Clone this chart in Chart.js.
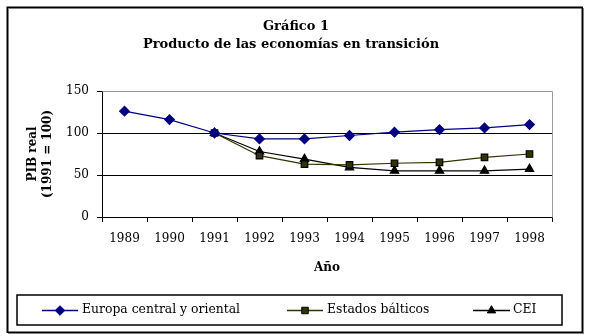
<!DOCTYPE html>
<html><head><meta charset="utf-8">
<script src="https://cdn.jsdelivr.net/npm/chart.js@4/dist/chart.umd.min.js"></script>
<style>html,body{margin:0;padding:0;background:#fff}#wrap{width:590px;height:336px;position:relative}</style>
</head><body><div id="wrap"><canvas id="c" width="590" height="336"></canvas></div>
<script>
const years = ['1989','1990','1991','1992','1993','1994','1995','1996','1997','1998'];
const europaCentral = [126,116,100,93,93,97,101,104,106,110];
const estadosBalticos = [null,null,100,73,63,62,64,65,71,75];
const cei = [null,null,100,78,69,59,55,55,55,57];
const yTicks = [0,50,100,150];
const titleLines = ['Gráfico 1','Producto de las economías en transición'];
const yTitle = ['PIB real','(1991 = 100)'];
const xTitle = 'Año';

const SERIF = '"DejaVu Serif", serif';

const framePlugin = {
  id:'frame',
  beforeDraw(chart){
    const {ctx} = chart;
    ctx.save();
    ctx.fillStyle='#fff'; ctx.fillRect(0,0,chart.width,chart.height);
    ctx.strokeStyle='#808080'; ctx.lineWidth=1;
    ctx.strokeRect(8.5,8.5,575,325);
    ctx.strokeStyle='#000'; ctx.lineWidth=1.5;
    ctx.strokeRect(7.25,7.25,575,325);
    ctx.fillStyle='#000'; ctx.textAlign='center'; ctx.textBaseline='middle';
    ctx.font='bold 13px '+SERIF;
    ctx.fillText(titleLines[0], 296, 27);
    ctx.fillText(titleLines[1], 291, 45);
    ctx.restore();
  },
  beforeDatasetsDraw(chart){
    const {ctx, chartArea:a} = chart;
    ctx.save();
    ctx.strokeStyle='#9a9a9a'; ctx.lineWidth=1;
    ctx.beginPath();
    ctx.moveTo(Math.round(a.left)+0.5, Math.round(a.top)+0.5);
    ctx.lineTo(Math.round(a.right)+0.5, Math.round(a.top)+0.5);
    ctx.lineTo(Math.round(a.right)+0.5, Math.round(a.bottom)+0.5);
    ctx.stroke();
    ctx.restore();
  },
  afterDraw(chart){
    const ctx = chart.ctx;
    ctx.save();
    ctx.strokeStyle='#000'; ctx.lineWidth=1.5;
    ctx.strokeRect(17,295,545,30);
    const items = [{x0:42,x1:78,tx:82},{x0:287,x1:323,tx:327},{x0:473,x1:510,tx:513}];
    const y = 310;
    chart.data.datasets.forEach((ds,i)=>{
      const it = items[i];
      ctx.strokeStyle = ds.borderColor; ctx.lineWidth = 1.5;
      ctx.beginPath(); ctx.moveTo(it.x0,y+0.5); ctx.lineTo(it.x1,y+0.5); ctx.stroke();
      ctx.fillStyle = ds.pointBackgroundColor; ctx.strokeStyle = ds.pointBorderColor; ctx.lineWidth=1;
      Chart.helpers.drawPoint(ctx,{pointStyle:ds.pointStyle,radius:ds.pointRadius,rotation:0,borderWidth:1},(it.x0+it.x1)/2,y+0.5);
      ctx.fillStyle='#000'; ctx.font='12.4px '+SERIF; ctx.textBaseline='middle'; ctx.textAlign='left';
      ctx.fillText(ds.label, it.tx, y);
    });
    ctx.restore();
  }
};

new Chart(document.getElementById('c'),{
  type:'line',
  data:{labels:years,datasets:[
    {label:'Europa central y oriental',data:europaCentral,borderColor:'#000080',backgroundColor:'#000080',pointBackgroundColor:'#000080',pointBorderColor:'#000080',pointStyle:'rectRot',pointRadius:4.8,borderWidth:1.2,tension:0},
    {label:'Estados bálticos',data:estadosBalticos,borderColor:'#333300',backgroundColor:'#333300',pointBackgroundColor:'#333300',pointBorderColor:'#000',pointStyle:'rect',pointRadius:4.6,borderWidth:1.2,tension:0},
    {label:'CEI',data:cei,borderColor:'#000',backgroundColor:'#000',pointBackgroundColor:'#000',pointBorderColor:'#000',pointStyle:'triangle',pointRadius:4.8,borderWidth:1.2,tension:0}
  ]},
  options:{
    responsive:false,animation:false,
    layout:{padding:{left:8,right:38,top:91,bottom:59}},
    plugins:{
      legend:{display:false},tooltip:{enabled:false},title:{display:false}
    },
    scales:{
      x:{offset:true,
        afterFit(s){s.height=60;},
        grid:{offset:true,drawOnChartArea:false,drawTicks:true,tickLength:5,color:'#000'},
        border:{color:'#000',width:1},
        ticks:{color:'#000',font:{family:SERIF,size:12},padding:10,maxRotation:0,autoSkip:false},
        title:{display:true,text:xTitle,color:'#000',font:{family:SERIF,size:12,weight:'bold'},padding:{top:0,bottom:2}}
      },
      y:{min:0,max:150,
        afterFit(s){s.width=94;},
        afterBuildTicks(s){s.ticks=yTicks.map(v=>({value:v}));},
        grid:{color:(c)=>c.tick && c.tick.value===150?'#9a9a9a':'#000',tickLength:5,drawTicks:true,tickColor:'#000'},
        border:{color:'#000',width:1},
        ticks:{color:'#000',font:{family:SERIF,size:12},padding:8},
        title:{display:true,text:yTitle,color:'#000',font:{family:SERIF,size:12,weight:'bold',lineHeight:1.2},padding:{top:18,bottom:0}}
      }
    }
  },
  plugins:[framePlugin]
});
</script></body></html>
